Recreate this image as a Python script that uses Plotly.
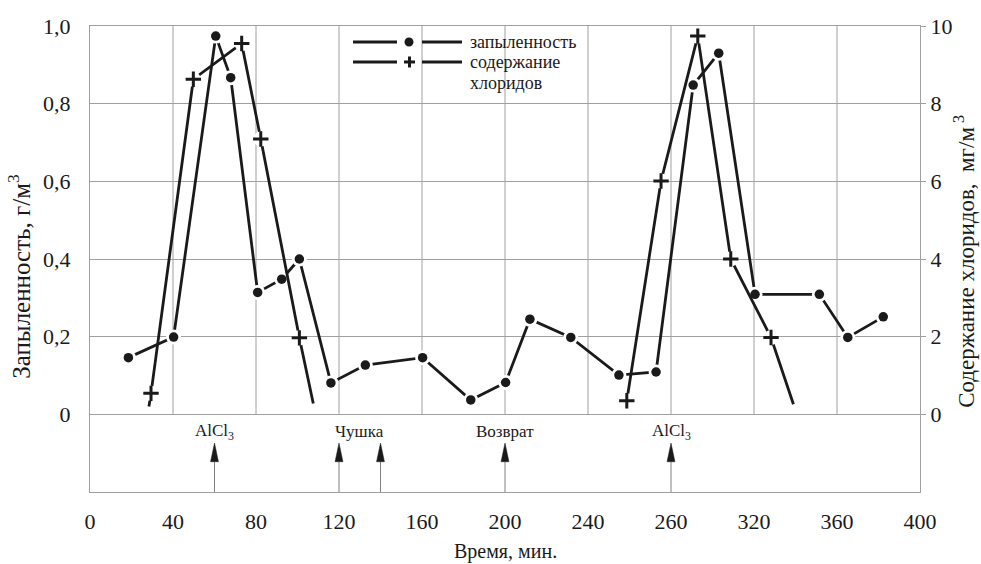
import plotly.graph_objects as go

# ---------------- data ----------------
time_ticks = [0, 40, 80, 120, 160, 200, 240, 280, 320, 360, 400]
time_tick_labels = ["0", "40", "80", "120", "160", "200", "240", "260", "320", "360", "400"]
dust_ticks = [0, 0.2, 0.4, 0.6, 0.8, 1.0]
dust_tick_labels = ["0", "0,2", "0,4", "0,6", "0,8", "1,0"]
chl_ticks = [0, 2, 4, 6, 8, 10]
chl_tick_labels = ["0", "2", "4", "6", "8", "10"]

# запыленность, г/м3 (left axis)
dust_t = [18.5, 40.3, 60.6, 67.8, 80.8, 92.4, 100.9, 116.1, 132.7, 160.3, 183.5,
          200.3, 212.0, 231.7, 254.9, 272.8, 290.7, 303.0, 320.5, 351.5, 365.2, 382.3]
dust_v = [0.146, 0.199, 0.974, 0.867, 0.314, 0.348, 0.400, 0.081, 0.127, 0.146, 0.037,
          0.082, 0.245, 0.198, 0.101, 0.109, 0.848, 0.930, 0.309, 0.309, 0.198, 0.251]

# содержание хлоридов, мг/м3 (right axis); None = break in the line
chl_t = [28.4, 29.4, 49.8, 73.1, 82.3, 100.9, 107.6, None,
         258.7, 275.2, 292.9, 308.8, 328.2, 339.0]
chl_v = [0.20, 0.54, 8.63, 9.55, 7.09, 1.97, 0.28, None,
         0.35, 6.01, 9.74, 4.00, 1.98, 0.26]
chl_marked = [False, True, True, True, True, True, False, False,
              True, True, True, True, True, False]

# technological events marked with arrows
event_t = [60, 120, 140, 200, 280]
event_label_t = [60, 130, 200, 280]
event_labels = ["AlCl<sub>3</sub>", "Чушка", "Возврат", "AlCl<sub>3</sub>"]

FONT = "Liberation Serif, Tinos, Times New Roman, DejaVu Serif, serif"
GRID = "#a0a0a0"
INK = "#1a1a1a"

fig = go.Figure()

# dust series
fig.add_trace(go.Scatter(x=dust_t, y=dust_v, mode="lines",
                         line=dict(color=INK, width=2.8), showlegend=False, hoverinfo="skip"))
fig.add_trace(go.Scatter(x=dust_t, y=dust_v, mode="markers",
                         marker=dict(color="white", size=15), showlegend=False, hoverinfo="skip"))
fig.add_trace(go.Scatter(x=dust_t, y=dust_v, mode="markers", name="запыленность",
                         marker=dict(color=INK, size=9.5), showlegend=False))

# chloride series
mk_t = [t for t, m in zip(chl_t, chl_marked) if m]
mk_v = [v for v, m in zip(chl_v, chl_marked) if m]
fig.add_trace(go.Scatter(x=chl_t, y=chl_v, mode="lines", yaxis="y2", connectgaps=False,
                         line=dict(color=INK, width=2.8), showlegend=False, hoverinfo="skip"))
fig.add_trace(go.Scatter(x=mk_t, y=mk_v, mode="markers", yaxis="y2",
                         marker=dict(color="white", size=15), showlegend=False, hoverinfo="skip"))
fig.add_trace(go.Scatter(x=mk_t, y=mk_v, mode="markers", yaxis="y2", name="содержание хлоридов",
                         marker=dict(symbol="cross-thin", size=11,
                                     line=dict(color=INK, width=3)), showlegend=False))

shapes = []
# vertical grid lines only in the upper (data) part
for t in time_ticks[1:-1]:
    shapes.append(dict(type="line", xref="x", yref="y", x0=t, x1=t, y0=0, y1=1.0,
                       line=dict(color=GRID, width=1), layer="below"))

# event arrows in the lower band
head_top, head_base, bottom = -0.074, -0.122, -0.2
half_w = 1.9
for t in event_t:
    shapes.append(dict(type="line", xref="x", yref="y", x0=t, x1=t, y0=bottom, y1=head_base,
                       line=dict(color="#808080", width=1)))
    shapes.append(dict(type="path", xref="x", yref="y",
                       path=f"M {t-half_w},{head_base} L {t+half_w},{head_base} L {t},{head_top} Z",
                       fillcolor=INK, line=dict(color=INK, width=0.5)))

annotations = []
for t, lab in zip(event_label_t, event_labels):
    annotations.append(dict(x=t, y=-0.045, xref="x", yref="y", text=lab, showarrow=False,
                            xanchor="center", yanchor="middle",
                            font=dict(family=FONT, size=17, color=INK)))

# legend (drawn manually, paper coordinates)
def px_x(p):
    return (p - 90) / 830.0

def px_y(p):
    return (492.3 - p) / 466.3

rows = [42, 62]
for i, ry in enumerate(rows):
    y = px_y(ry)
    shapes.append(dict(type="line", xref="paper", yref="paper", x0=px_x(353), x1=px_x(397),
                       y0=y, y1=y, line=dict(color=INK, width=2.8)))
    shapes.append(dict(type="line", xref="paper", yref="paper", x0=px_x(422), x1=px_x(462),
                       y0=y, y1=y, line=dict(color=INK, width=2.8)))
    if i == 0:
        shapes.append(dict(type="circle", xref="paper", yref="paper",
                           x0=px_x(404.5), x1=px_x(413.5), y0=px_y(46.5), y1=px_y(37.5),
                           fillcolor=INK, line=dict(color=INK, width=0)))
    else:
        shapes.append(dict(type="line", xref="paper", yref="paper", x0=px_x(404), x1=px_x(415),
                           y0=y, y1=y, line=dict(color=INK, width=3)))
        shapes.append(dict(type="line", xref="paper", yref="paper", x0=px_x(409.5), x1=px_x(409.5),
                           y0=px_y(ry - 5.5), y1=px_y(ry + 5.5), line=dict(color=INK, width=3)))

for ry, txt in zip([42, 62, 83], ["запыленность", "содержание", "хлоридов"]):
    annotations.append(dict(x=px_x(468), y=px_y(ry), xref="paper", yref="paper", text=txt,
                            showarrow=False, xanchor="left", yanchor="middle",
                            font=dict(family=FONT, size=18, color=INK)))

# axis titles
annotations.append(dict(x=px_x(505), y=px_y(552), xref="paper", yref="paper", text="Время, мин.",
                        showarrow=False, xanchor="center", yanchor="middle",
                        font=dict(family=FONT, size=20, color=INK)))
annotations.append(dict(x=px_x(19), y=px_y(277), xref="paper", yref="paper",
                        text="Запыленность, г/м<sup>3</sup>", textangle=-90,
                        showarrow=False, xanchor="center", yanchor="middle",
                        font=dict(family=FONT, size=25, color=INK)))
annotations.append(dict(x=px_x(965), y=px_y(262), xref="paper", yref="paper",
                        text="Содержание хлоридов,  мг/м<sup> 3</sup>", textangle=-90,
                        showarrow=False, xanchor="center", yanchor="middle",
                        font=dict(family=FONT, size=23, color=INK)))

fig.update_layout(
    width=981, height=564,
    margin=dict(l=90, r=61, t=26, b=72),
    paper_bgcolor="white", plot_bgcolor="white",
    font=dict(family=FONT, color=INK),
    showlegend=False,
    shapes=shapes, annotations=annotations,
    xaxis=dict(range=[0, 400], tickmode="array", tickvals=time_ticks, ticktext=time_tick_labels,
               showgrid=False, zeroline=False, showline=True, mirror=True,
               linecolor=GRID, linewidth=1, ticks="outside", ticklen=10,
               tickcolor="rgba(0,0,0,0)", tickfont=dict(family=FONT, size=22, color=INK)),
    yaxis=dict(range=[-0.2, 1.0], tickmode="array", tickvals=dust_ticks, ticktext=dust_tick_labels,
               showgrid=True, gridcolor=GRID, gridwidth=1, zeroline=False,
               showline=True, mirror=True, linecolor=GRID, linewidth=1,
               ticks="outside", ticklen=14, tickcolor="rgba(0,0,0,0)",
               tickfont=dict(family=FONT, size=22, color=INK)),
    yaxis2=dict(range=[-2, 10], overlaying="y", side="right", tickmode="array",
                tickvals=chl_ticks, ticktext=chl_tick_labels, showgrid=False, zeroline=False,
                showline=False, ticks="outside", ticklen=5, tickcolor=GRID,
                tickfont=dict(family=FONT, size=22, color=INK)),
)

fig.write_html("out.html", config={"displayModeBar": False},
               post_script="document.body.style.margin='0px';")
